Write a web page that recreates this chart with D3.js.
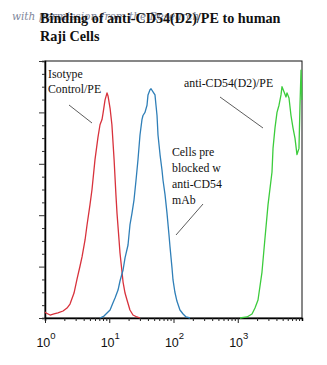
<!DOCTYPE html>
<html>
<head>
<meta charset="utf-8">
<script src="https://cdn.jsdelivr.net/npm/d3@7"></script>
<style>
  html, body { margin: 0; padding: 0; background: #fff; }
  svg { display: block; }
</style>
</head>
<body>
<svg id="chart" width="327" height="365"></svg>
<script>
// ---------- data ----------
const titleLines = ["Binding of anti-CD54(D2)/PE to human", "Raji Cells"];
const watermark = "with permission from the Research";

const xTickValues = [1, 10, 100, 1000];
const xTickExponents = ["0", "1", "2", "3"];
const yTickValues = [0, 50, 100, 150, 200, 250];

// Isotype Control/PE (fluorescence intensity, event count)
const isotypeX = [1.00, 1.04, 1.20, 1.38, 1.59, 1.91, 2.20, 2.45, 2.83, 3.15, 3.51, 3.77, 4.20, 4.51, 5.01, 5.39, 6.00, 6.68, 7.18, 7.71, 8.00, 8.59, 9.23, 9.57, 10.3, 11.0, 11.9, 12.7, 13.2, 14.2, 14.7, 15.8, 16.4, 17.6, 18.9, 21.0, 23.4, 27.0, 30.1];
const isotypeY = [5.8, 4.9, 2.9, 3.9, 4.9, 6.8, 9.7, 13.6, 24.3, 37.9, 50.6, 59.4, 75.9, 90.5, 110, 125, 154, 176, 188, 193, 199, 212, 219, 216, 204, 188, 154, 120, 102, 75.9, 63.2, 44.7, 35.0, 24.3, 17.5, 7.8, 2.9, 1.0, 0];

// Cells pre-blocked with anti-CD54 mAb
const blockedX = [7.18, 8.28, 9.23, 10.3, 11.4, 12.3, 13.7, 14.7, 16.4, 17.6, 19.6, 21.0, 22.6, 24.3, 26.1, 28.0, 30.1, 32.3, 33.5, 36.0, 38.7, 40.1, 43.1, 44.7, 48.0, 51.5, 53.4, 55.4, 57.4, 61.7, 66.2, 68.7, 73.8, 79.2, 85.1, 88.3, 94.8, 98.3, 105, 113, 126, 141, 157, 181];
const blockedY = [0, 1.9, 4.9, 7.8, 14.6, 19.5, 27.2, 36.0, 46.7, 58.4, 71.0, 90.5, 102, 115, 134, 154, 178, 193, 197, 200, 207, 217, 222, 223, 220, 217, 207, 197, 178, 159, 144, 134, 120, 102, 80.7, 69.1, 48.6, 37.0, 25.3, 16.5, 7.8, 3.9, 1.0, 0];

// anti-CD54(D2)/PE
const antiX = [1084, 1393, 1667, 1855, 2067, 2384, 2655, 2958, 3413, 3540, 3800, 4083, 4386, 4711, 4884, 5246, 5634, 5843, 6276, 6740, 7240, 7777, 8353, 8972, 9305, 9650, 10000];
const antiY = [0, 1.0, 3.9, 9.7, 17.5, 44.7, 77.8, 110, 142, 165, 185, 200, 207, 217, 225, 220, 215, 219, 214, 197, 185, 175, 159, 165, 207, 241, 212];

const seriesNames = ["Isotype Control/PE", "Cells pre blocked w anti-CD54 mAb", "anti-CD54(D2)/PE"];
const seriesColors = ["#d8323c", "#2f7fb8", "#3ccc3c"];

// ---------- layout ----------
const svg = d3.select("#chart");
const plot = { left: 45, right: 302, top: 61, bottom: 318 };

const x = d3.scaleLog().domain([1, 10000]).range([plot.left, plot.right]);
const y = d3.scaleLinear().domain([0, 250]).range([plot.bottom, plot.top]);

svg.append("rect").attr("width", 327).attr("height", 365).attr("fill", "#fff");

// watermark
svg.append("text")
  .attr("x", 12).attr("y", 20)
  .attr("font-family", "'DejaVu Serif', serif")
  .attr("font-style", "italic")
  .attr("font-size", 10.5)
  .attr("fill", "#56607a")
  .attr("opacity", 0.75)
  .text(watermark);

// title
svg.append("g").selectAll("text").data(titleLines).join("text")
  .attr("x", 40)
  .attr("y", (d, i) => 23 + i * 17.5)
  .attr("font-family", "'Liberation Serif', 'Times New Roman', serif")
  .attr("font-weight", "bold")
  .attr("font-size", 14.2)
  .attr("fill", "#111")
  .text(d => d);

// frame
svg.append("rect")
  .attr("x", plot.left).attr("y", plot.top)
  .attr("width", plot.right - plot.left).attr("height", plot.bottom - plot.top)
  .attr("fill", "none").attr("stroke", "#111").attr("stroke-width", 1);

// x axis ticks (log, major + minor)
const xAllTicks = x.ticks();
const xAxis = d3.axisBottom(x)
  .tickValues(xAllTicks.filter(v => v < 10000))
  .tickFormat("")
  .tickSizeOuter(0)
  .tickSize(3);
const gx = svg.append("g").attr("transform", `translate(0,${plot.bottom})`).call(xAxis);
gx.select(".domain").attr("stroke", "#000").attr("stroke-width", 1.5);
gx.selectAll(".tick line")
  .attr("stroke", "#222")
  .attr("y2", d => xTickValues.includes(d) ? 5 : 3);

// x labels 10^n
const xl = svg.append("g");
xTickValues.forEach((v, i) => {
  const t = xl.append("text")
    .attr("x", x(v) + 1)
    .attr("y", 347)
    .attr("text-anchor", "middle")
    .attr("font-family", "'Liberation Sans', Arial, sans-serif")
    .attr("font-size", 12.5)
    .attr("fill", "#111");
  t.append("tspan").text("10");
  t.append("tspan").attr("dy", -8).attr("font-size", 9.5).text(xTickExponents[i]);
});

// y axis ticks (major + minor), no labels
const yMinor = d3.range(0, 250.01, 12.5);
const yAxis = d3.axisLeft(y)
  .tickValues(yMinor)
  .tickFormat("")
  .tickSizeOuter(0)
  .tickSize(3);
const gy = svg.append("g").attr("transform", `translate(${plot.left},0)`).call(yAxis);
gy.select(".domain").attr("stroke", "#000").attr("stroke-width", 1.5);
gy.selectAll(".tick line")
  .attr("stroke", "#333")
  .attr("x2", d => yTickValues.includes(d) ? -6 : -3);

// curves
const seriesData = [
  isotypeX.map((v, i) => [v, isotypeY[i]]),
  blockedX.map((v, i) => [v, blockedY[i]]),
  antiX.map((v, i) => [v, antiY[i]])
];
const line = d3.line().x(d => x(d[0])).y(d => y(d[1]));
svg.append("g").selectAll("path").data(seriesData).join("path")
  .attr("d", line)
  .attr("fill", "none")
  .attr("stroke", (d, i) => seriesColors[i])
  .attr("stroke-width", 1.3)
  .attr("stroke-linejoin", "round");

// annotations
const ann = svg.append("g")
  .attr("font-family", "'Liberation Serif', 'Times New Roman', serif")
  .attr("font-size", 11.8)
  .attr("fill", "#111");
const notes = [
  { x: 48, y: 78, lines: ["Isotype", "Control/PE"], dy: 15, ptr: [69, 105, 92, 123] },
  { x: 184, y: 87, lines: ["anti-CD54(D2)/PE"], dy: 15, ptr: [220, 97, 263, 128] },
  { x: 172, y: 156, lines: ["Cells pre", "blocked w", "anti-CD54", "mAb"], dy: 16, ptr: [203, 204, 176, 235] }
];
notes.forEach(n => {
  n.lines.forEach((l, i) => {
    ann.append("text").attr("x", n.x).attr("y", n.y + i * n.dy).text(l);
  });
  svg.append("line")
    .attr("x1", n.ptr[0]).attr("y1", n.ptr[1])
    .attr("x2", n.ptr[2]).attr("y2", n.ptr[3])
    .attr("stroke", "#333").attr("stroke-width", 0.8);
});
</script>
</body>
</html>
